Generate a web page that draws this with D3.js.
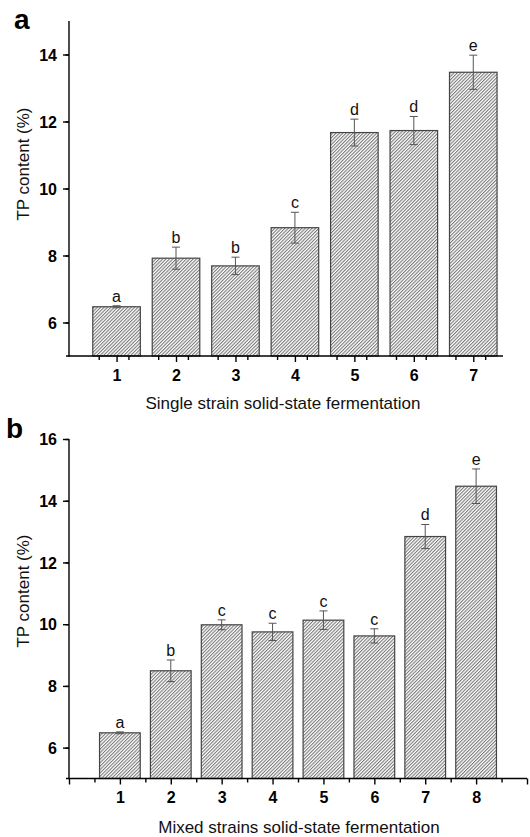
<!DOCTYPE html>
<html>
<head>
<meta charset="utf-8">
<script src="https://cdn.jsdelivr.net/npm/d3@7"></script>
<style>
	body { margin: 0; background: #fff; }
	svg { display: block; font-family: Arial, "Liberation Sans", sans-serif; }
	.axis path, .axis line { stroke: #000; stroke-width: 1.4; }
	.axis text { font-family: Arial, "Liberation Sans", sans-serif; font-weight: bold; font-size: 16px; fill: #000; }
	.bar { stroke: #444; stroke-width: 1.2; }
	.err { stroke: #555; stroke-width: 1; }
	.sig { font-size: 16px; fill: #111; }
	.title { font-size: 17px; fill: #111; }
	.panel { font-size: 28px; font-weight: bold; fill: #000; }
</style>
</head>
<body>
<script>
var singleCats = [1, 2, 3, 4, 5, 6, 7],
singleVals = [6.47, 7.92, 7.69, 8.83, 11.67, 11.73, 13.47],
singleErr = [0.03, 0.33, 0.26, 0.46, 0.40, 0.42, 0.51],
singleSig = ["a", "b", "b", "c", "d", "d", "e"];

var mixedCats = [1, 2, 3, 4, 5, 6, 7, 8],
mixedVals = [6.48, 8.49, 9.98, 9.75, 10.13, 9.62, 12.84, 14.47],
mixedErr = [0.03, 0.35, 0.16, 0.28, 0.30, 0.23, 0.39, 0.56],
mixedSig = ["a", "b", "c", "c", "c", "c", "d", "e"];

var singleYTicks = [6, 8, 10, 12, 14],
mixedYTicks = [6, 8, 10, 12, 14, 16];

var width = 530, height = 837;

var svg = d3.select("body").append("svg")
	.attr("width", width)
	.attr("height", height);

// diagonal hatch used for every bar
var pat = svg.append("defs").append("pattern")
	.attr("id", "hatch")
	.attr("patternUnits", "userSpaceOnUse")
	.attr("width", 2.4)
	.attr("height", 2.4)
	.attr("patternTransform", "rotate(45)");
pat.append("rect").attr("width", 2.4).attr("height", 2.4).attr("fill", "#fff");
pat.append("line")
	.attr("x1", 0.6).attr("y1", 0)
	.attr("x2", 0.6).attr("y2", 2.4)
	.attr("stroke", "#555")
	.attr("stroke-width", 0.85);

function buildPanel(opt) {
	var g = svg.append("g");

	var x = d3.scaleLinear().domain(opt.xDomain).range([69, opt.xRight]);
	var y = d3.scaleLinear().domain(opt.yDomain).range([opt.yBottom, opt.yTop]);
	var barW = x(0.8) - x(0);

	var data = opt.cats.map(function(c, i) {
		return { cat: c, val: opt.vals[i], err: opt.errs[i], sig: opt.sig[i] };
	});

	// bars
	g.selectAll(".bar")
		.data(data)
		.enter().append("rect")
		.attr("class", "bar")
		.attr("x", function(d) { return x(d.cat) - barW / 2; })
		.attr("width", barW)
		.attr("y", function(d) { return y(d.val); })
		.attr("height", function(d) { return y(opt.yDomain[0]) - y(d.val); })
		.attr("fill", "url(#hatch)");

	// error bars
	var err = g.selectAll(".errG")
		.data(data)
		.enter().append("g")
		.attr("class", "err");
	err.append("line")
		.attr("x1", function(d) { return x(d.cat); })
		.attr("x2", function(d) { return x(d.cat); })
		.attr("y1", function(d) { return y(d.val + d.err); })
		.attr("y2", function(d) { return y(d.val - d.err); });
	err.selectAll(".cap")
		.data(function(d) { return [d.val + d.err, d.val - d.err].map(function(v) { return { cat: d.cat, v: v }; }); })
		.enter().append("line")
		.attr("x1", function(d) { return x(d.cat) - 4; })
		.attr("x2", function(d) { return x(d.cat) + 4; })
		.attr("y1", function(d) { return y(d.v); })
		.attr("y2", function(d) { return y(d.v); });

	// significance letters
	g.selectAll(".sig")
		.data(data)
		.enter().append("text")
		.attr("class", "sig")
		.attr("x", function(d) { return x(d.cat); })
		.attr("y", function(d) { return y(d.val + d.err) - 4; })
		.attr("text-anchor", "middle")
		.text(function(d) { return d.sig; });

	// x axis: major + minor ticks
	var xMinor = d3.range(opt.xDomain[0], opt.xDomain[1] + 0.01, 0.5).filter(function(v) { return v % 1 !== 0; });
	if (opt.xMinorStart) xMinor = xMinor.filter(function(v) { return v >= opt.xMinorStart; });
	g.append("g")
		.attr("class", "axis")
		.attr("transform", "translate(0," + opt.yBottom + ")")
		.call(d3.axisBottom(x).tickValues(opt.xMajor).tickSize(6).tickSizeOuter(0)
			.tickFormat(function(d) { return opt.cats.indexOf(d) >= 0 ? d : ""; }))
		.call(function(s) {
			s.select(".domain").attr("d", "M66,0H" + opt.xRight);
			s.selectAll("text").attr("dy", 0).attr("y", opt.xLabelDy);
		});
	g.append("g")
		.attr("class", "axis")
		.attr("transform", "translate(0," + opt.yBottom + ")")
		.call(d3.axisBottom(x).tickValues(xMinor).tickSize(4).tickFormat(""))
		.call(function(s) { s.select(".domain").remove(); });

	// y axis: major + minor ticks
	var yMinor = d3.range(opt.yDomain[0] + 1, opt.yDomain[1] + 0.01, 2);
	g.append("g")
		.attr("class", "axis")
		.attr("transform", "translate(69,0)")
		.call(d3.axisLeft(y).tickValues(opt.yTicks).tickSize(6).tickSizeOuter(0).tickPadding(6))
		.call(function(s) {
			s.select(".domain").attr("d", "M0," + opt.yTop + "V" + (opt.yBottom + 0.7));
			s.selectAll("text").attr("dy", "0.35em");
		});
	g.append("g")
		.attr("class", "axis")
		.attr("transform", "translate(69,0)")
		.call(d3.axisLeft(y).tickValues(yMinor).tickSize(3.5).tickFormat(""))
		.call(function(s) { s.select(".domain").remove(); });

	// titles
	g.append("text")
		.attr("class", "title")
		.attr("transform", "translate(29," + opt.yTitleY + ") rotate(-90)")
		.attr("text-anchor", "middle")
		.text("TP content (%)");

	g.append("text")
		.attr("class", "title")
		.attr("x", opt.xTitleX)
		.attr("y", opt.xTitleY)
		.attr("text-anchor", "middle")
		.text(opt.xTitle);

	g.append("text")
		.attr("class", "panel")
		.attr("x", opt.letterX)
		.attr("y", opt.letterY)
		.text(opt.letter);
}

buildPanel({
	cats: singleCats, vals: singleVals, errs: singleErr, sig: singleSig,
	yTicks: singleYTicks,
	xMajor: singleCats,
	xDomain: [0.2, 7.5], xRight: 503, xMinorStart: 0.5,
	yDomain: [5, 15], yBottom: 356, yTop: 21,
	xLabelDy: 25,
	yTitleY: 164,
	xTitle: "Single strain solid-state fermentation", xTitleX: 283, xTitleY: 409,
	letter: "a", letterX: 14, letterY: 29
});

buildPanel({
	cats: mixedCats, vals: mixedVals, errs: mixedErr, sig: mixedSig,
	yTicks: mixedYTicks,
	xMajor: [0, 1, 2, 3, 4, 5, 6, 7, 8, 9],
	xDomain: [0, 9], xRight: 527,
	yDomain: [5, 16], yBottom: 778.5, yTop: 439,
	xLabelDy: 24,
	yTitleY: 591,
	xTitle: "Mixed strains solid-state fermentation", xTitleX: 299, xTitleY: 833,
	letter: "b", letterX: 6, letterY: 438
});
</script>
</body>
</html>
